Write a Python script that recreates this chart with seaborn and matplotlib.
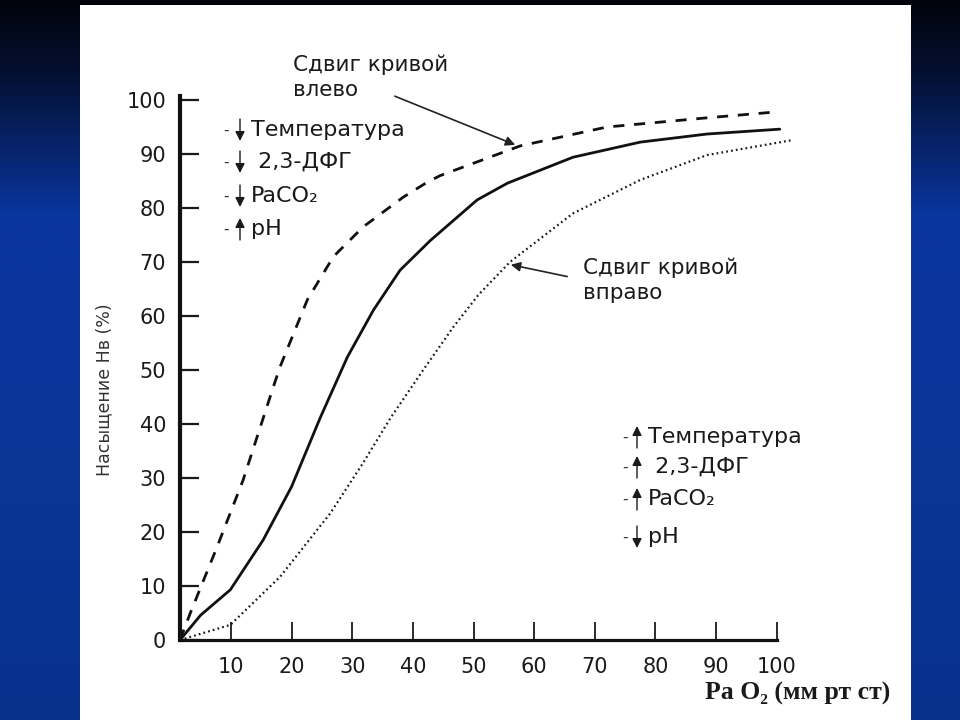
import numpy as np
import pandas as pd
import seaborn as sns
import matplotlib.pyplot as plt
from matplotlib.colors import LinearSegmentedColormap
from matplotlib.patches import Rectangle

# values (PaO2, saturation %)
normal_x = [1.6, 5.0, 9.9, 15.3, 20.0, 24.7, 29.2, 33.5, 37.9, 42.9, 50.6, 55.6, 66.4, 77.5, 88.5, 100.5]
normal_y = [0.0, 4.6, 9.3, 18.5, 28.4, 41.1, 52.4, 61.1, 68.5, 74.0, 81.5, 84.6, 89.4, 92.2, 93.7, 94.6]

left_x = [1.6, 3.3, 7.7, 12.0, 17.0, 18.1, 22.6, 26.9, 31.8, 38.4, 42.4, 44.5, 57.7, 72.0, 88.5, 100.0]
left_y = [0.0, 5.0, 17.2, 29.6, 46.9, 50.6, 63.0, 71.0, 76.5, 82.0, 84.8, 86.0, 91.5, 95.0, 96.7, 97.8]

right_x = [1.6, 9.9, 18.1, 26.4, 31.8, 36.3, 41.7, 46.7, 50.8, 56.0, 66.4, 77.5, 88.5, 102.7]
right_y = [0.0, 2.8, 11.7, 23.5, 32.8, 41.1, 50.0, 58.0, 63.9, 70.0, 79.0, 85.2, 89.8, 92.6]

x_ticks = [10, 20, 30, 40, 50, 60, 70, 80, 90, 100]
y_ticks = [0, 10, 20, 30, 40, 50, 60, 70, 80, 90, 100]

left_items = ["Температура", " 2,3-ДФГ", "PaCO₂", "pH"]
left_dirs = ["down", "down", "down", "up"]
right_items = ["Температура", " 2,3-ДФГ", "PaCO₂", "pH"]
right_dirs = ["up", "up", "up", "down"]

sns.set_theme(style="white")
plt.rcParams['font.family'] = ['DejaVu Sans']

W, H = 960, 720
fig = plt.figure(figsize=(9.6, 7.2), dpi=100)

def fx(px):
    return px / W

def fy(py):
    return 1 - py / H

# slide background
bg = fig.add_axes([0, 0, 1, 1], zorder=0)
cmap = LinearSegmentedColormap.from_list(
    "slide", [(0, "#01030c"), (0.1, "#041032"), (0.3, "#0a36a0"), (0.7, "#0a3596"), (1, "#08318c")])
grad = np.linspace(0, 1, 256).reshape(-1, 1)
bg.imshow(grad, aspect="auto", cmap=cmap, extent=[0, 1, 0, 1])
bg.set_axis_off()
fig.patches.append(Rectangle((fx(80), 0), fx(911 - 80), fy(5), transform=fig.transFigure,
                             facecolor="white", edgecolor="none", zorder=1))

# chart axes: x=1.6 at px 180, x=100 at px 777; y=0 at px 640, y=100 at px 100
xl, xr = 1.6, 104.0
ax = fig.add_axes([fx(180), fy(640), fx(801 - 180), (640 - 100) / H * 1.008], zorder=2)
ax.set_facecolor("none")

df_n = pd.DataFrame({"x": normal_x, "y": normal_y})
df_l = pd.DataFrame({"x": left_x, "y": left_y})
df_r = pd.DataFrame({"x": right_x, "y": right_y})

sns.lineplot(data=df_n, x="x", y="y", ax=ax, color="#111111", lw=2.0, sort=False)
sns.lineplot(data=df_l, x="x", y="y", ax=ax, color="#111111", lw=2.0, sort=False,
             linestyle=(0, (4, 3.5)))
sns.lineplot(data=df_r, x="x", y="y", ax=ax, color="#1a1a1a", lw=1.6, sort=False,
             linestyle=(0, (0.8, 1.4)))

ax.set_xlim(xl, xr)
ax.set_ylim(0, 100.8)
ax.set_xticks(x_ticks)
ax.set_yticks(y_ticks)
ax.set_xlabel("")
ax.set_ylabel("")
for s in ["top", "right"]:
    ax.spines[s].set_visible(False)
ax.spines["left"].set_linewidth(3.0)
ax.spines["bottom"].set_linewidth(2.3)
ax.spines["left"].set_color("#111111")
ax.spines["bottom"].set_color("#111111")
ax.spines["bottom"].set_bounds(xl, 100)
ax.tick_params(axis="y", direction="in", length=14, width=1.6, pad=10, labelsize=15,
               colors="#1a1a1a", left=True)
ax.tick_params(axis="x", direction="in", length=13, width=1.3, pad=12, labelsize=15,
               colors="#1a1a1a", bottom=True)

# axis titles
fig.text(fx(104), fy(390), "Насыщение Нв (%)", rotation=90, ha="center", va="center",
         fontsize=12.5, color="#333333", zorder=3)
fig.text(fx(798), fy(693), "Pa O₂ (мм рт ст)", ha="center", va="center", fontsize=18.5,
         fontweight="bold", family=["Liberation Serif", "DejaVu Serif"], color="#1a1a1a", zorder=3)

# lists of factors
def factor_list(rows_y, dash_x, arrow_x, text_x, items, dirs):
    for yy, item, d in zip(rows_y, items, dirs):
        fig.text(fx(dash_x), fy(yy), "-", ha="center", va="center", fontsize=11,
                 color="#333333", zorder=3)
        top, bot = H - (yy - 11), H - (yy + 11)
        tip, tail = (bot, top) if d == "down" else (top, bot)
        ax.annotate("", xy=(arrow_x, tip), xytext=(arrow_x, tail), xycoords="figure pixels",
                    textcoords="figure pixels", annotation_clip=False,
                    arrowprops=dict(arrowstyle="-|>", color="#1a1a1a", lw=1.0,
                                    mutation_scale=14, shrinkA=0, shrinkB=0))
        fig.text(fx(text_x), fy(yy), item, ha="left", va="center", fontsize=16,
                 family=["DejaVu Sans"], color="#1a1a1a", zorder=3)

factor_list([130, 162, 196, 229], 226, 240, 251, left_items, left_dirs)
factor_list([437, 467, 499, 537], 625, 637, 648, right_items, right_dirs)

# shift annotations
fig.text(fx(293), fy(65), "Сдвиг кривой", ha="left", va="center", fontsize=15.5,
         color="#1a1a1a", zorder=3)
fig.text(fx(293), fy(90), "влево", ha="left", va="center", fontsize=15.5,
         color="#1a1a1a", zorder=3)
fig.text(fx(583), fy(268), "Сдвиг кривой", ha="left", va="center", fontsize=15.5,
         color="#1a1a1a", zorder=3)
fig.text(fx(583), fy(293), "вправо", ha="left", va="center", fontsize=15.5,
         color="#1a1a1a", zorder=3)

ax.annotate("", xy=(57.3, 91.5), xytext=(36.6, 100.9), annotation_clip=False,
            arrowprops=dict(arrowstyle="-|>", color="#222222", lw=1.2, mutation_scale=14))
ax.annotate("", xy=(55.7, 69.6), xytext=(65.9, 67.2), annotation_clip=False,
            arrowprops=dict(arrowstyle="-|>", color="#222222", lw=1.2, mutation_scale=14))

fig.savefig("out.png", dpi=100)
